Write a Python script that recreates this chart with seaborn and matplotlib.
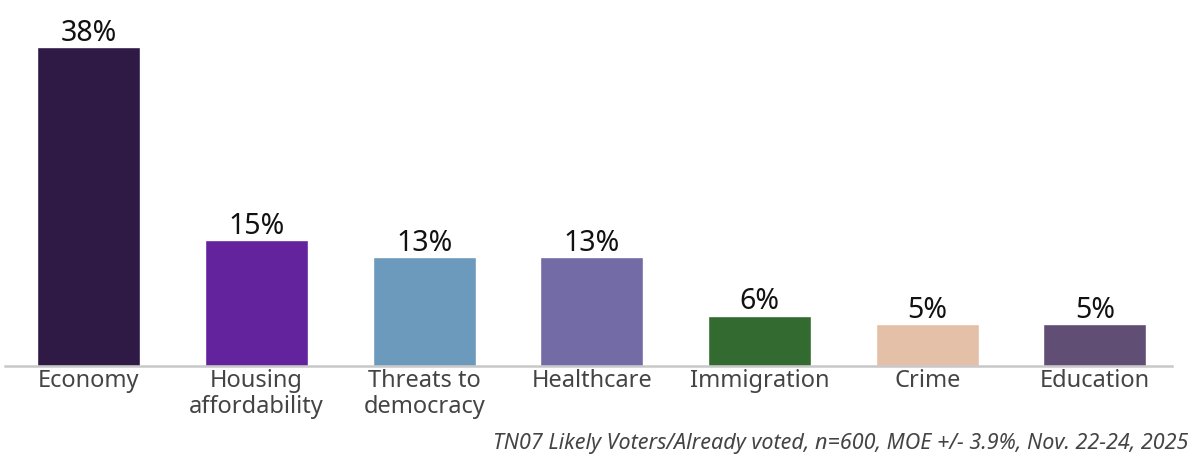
import matplotlib
matplotlib.use("Agg")
import matplotlib.pyplot as plt
import seaborn as sns
import pandas as pd

categories = ["Economy", "Housing\naffordability", "Threats to\ndemocracy", "Healthcare",
              "Immigration", "Crime", "Education"]
values = [38, 15, 13, 13, 6, 5, 5]
value_labels = ["38%", "15%", "13%", "13%", "6%", "5%", "5%"]
colors = ["#2E1A45", "#62239D", "#6B9ABD", "#736BA5", "#336A2F", "#E3C0A7", "#604E75"]
footer = "TN07 Likely Voters/Already voted, n=600, MOE +/- 3.9%, Nov. 22-24, 2025"

sns.set_style("white")
plt.rcParams["font.family"] = ["Noto Sans", "DejaVu Sans"]

df = pd.DataFrame({"cat": categories, "val": values})

fig = plt.figure(figsize=(11.99, 4.75), dpi=100)
ax = fig.add_axes([5 / 1199, 109 / 475, (1172 - 5) / 1199, (366 - 10) / 475])
sns.barplot(data=df, x="cat", y="val", hue="cat", palette=colors, legend=False,
            width=0.615, ax=ax, saturation=1)

ax.set_xlim(-0.5, 6.46)
ax.set_ylim(0, 38 * (366 - 10) / 319)
for i, (v, lab) in enumerate(zip(values, value_labels)):
    ax.text(i, v - 0.1, lab, ha="center", va="bottom", fontsize=20.5, color="#111111",
            fontweight="light")

for s in ["top", "right", "left"]:
    ax.spines[s].set_visible(False)
ax.spines["bottom"].set_color("#c8c8c8")
ax.spines["bottom"].set_linewidth(1.8)
ax.set_yticks([])
ax.set_xlabel("")
ax.set_ylabel("")
ax.tick_params(axis="x", length=0, pad=2, labelsize=17, labelcolor="#444444")
for t in ax.get_xticklabels():
    t.set_linespacing(1.1)
    t.set_fontweight("light")

fig.text(1188 / 1199, 1 - 443 / 475, footer, ha="right", va="center", fontsize=15.5,
         style="italic", color="#444444", fontweight="light")

fig.savefig("out.png", dpi=100)
